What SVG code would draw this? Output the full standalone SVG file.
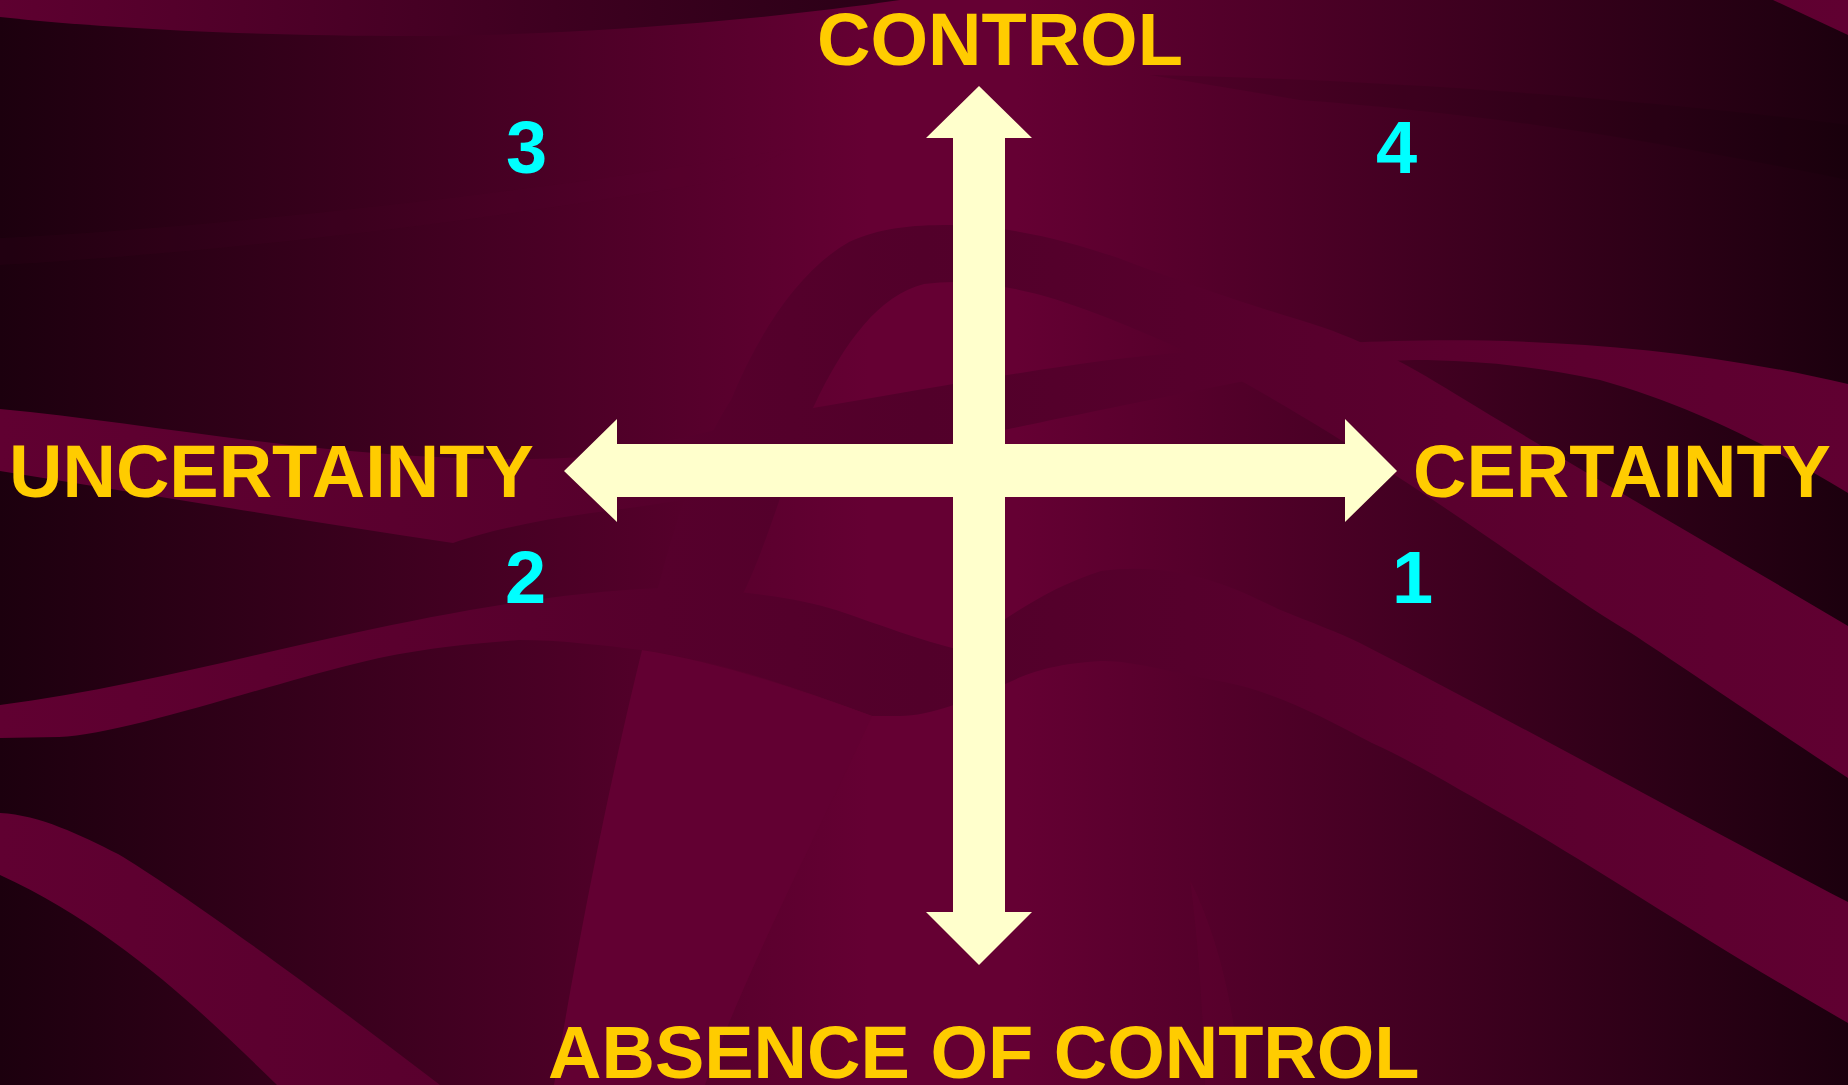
<svg xmlns="http://www.w3.org/2000/svg" width="1848" height="1085" viewBox="0 0 1848 1085">
  <defs>
    <linearGradient id="bg" gradientUnits="userSpaceOnUse" x1="0" y1="0" x2="1848" y2="0">
      <stop offset="0" stop-color="#1c000e"/>
      <stop offset="0.47" stop-color="#650033"/>
      <stop offset="0.55" stop-color="#650033"/>
      <stop offset="1" stop-color="#1c000e"/>
    </linearGradient>
    <linearGradient id="band" gradientUnits="userSpaceOnUse" x1="0" y1="0" x2="1848" y2="0">
      <stop offset="0" stop-color="#600031"/>
      <stop offset="0.5" stop-color="#52002a"/>
      <stop offset="1" stop-color="#600031"/>
    </linearGradient>
    <linearGradient id="topstrip" gradientUnits="userSpaceOnUse" x1="0" y1="0" x2="900" y2="0">
      <stop offset="0" stop-color="#5e0030"/>
      <stop offset="1" stop-color="#2a0016"/>
    </linearGradient>
    <style>
      .band { fill: url(#band); }
      .lite { fill: #620032; }
      .lbl { font-family: "Liberation Sans", Arial, sans-serif; font-weight: bold; font-size: 74px; fill: #FFCC00; }
      .num { font-family: "Liberation Sans", Arial, sans-serif; font-weight: bold; font-size: 74px; fill: #00FFFF; }
      .arrow { fill: #FFFFCC; }
    </style>
  </defs>

  <g id="background">
    <rect x="0" y="0" width="1848" height="1085" fill="url(#bg)"/>
    <path d="M0,0 H900 C750,22 560,36 412,36 C250,36 100,28 0,17 Z" fill="url(#topstrip)"/>
    <path class="band" d="M1773,0 H1848 V35 Z"/>
    <path d="M0,238 C250,225 550,190 790,149 C770,160 745,172 725,180 C520,215 260,250 0,265 Z" fill="#660033" opacity="0.07"/>
    <path d="M1150,75 C1400,80 1650,100 1848,125 L1848,180 C1650,140 1500,115 1300,100 Z" fill="#000000" opacity="0.09"/>
    <path class="band" d="M0,409 C120,420 250,445 400,455 C500,461 560,460 600,455 C680,440 750,420 813,408 C950,385 1080,360 1188,352 C1250,347 1300,344 1344,343 C1480,336 1660,340 1848,384 L1848,493 C1780,452 1700,408 1600,380 C1530,365 1470,360 1414,360 C1330,362 1250,380 1160,398 C1080,414 1004,430 1004,430 C900,455 780,490 591,513 C540,520 490,530 453,543 C300,520 150,495 0,471 Z"/>
    <path class="band" d="M655,600 C680,500 705,440 731,400 C760,330 800,270 849,242 C880,228 910,225 950,225 C1020,225 1100,250 1142,267 C1200,288 1250,305 1300,320 C1360,338 1400,360 1457,395 C1580,470 1720,550 1848,626 L1848,778 C1760,720 1680,665 1631,633 C1560,590 1500,543 1398,477 C1320,425 1250,385 1188,352 C1120,322 1060,296 1004,287 C970,281 950,281 924,284 C880,295 845,340 813,408 C790,460 770,540 740,600 Z"/>
    <path class="band" d="M0,705 C120,690 250,655 354,633 C450,612 560,592 660,588 C730,588 800,598 836,610 C880,625 920,640 960,650 C990,630 1040,590 1101,571 C1180,560 1240,590 1278,609 C1310,622 1340,633 1360,643 C1520,725 1700,825 1848,902 L1848,1023 C1720,950 1600,870 1513,820 C1460,790 1410,760 1372,743 C1320,715 1270,690 1219,681 C1170,672 1130,660 1101,661 C1060,663 1030,672 1012,681 C970,700 930,716 900,716 L872,716 C800,690 720,660 642,650 C600,645 560,640 519,640 C450,645 400,652 354,664 C250,690 120,735 59,737 L0,738 Z"/>
    <path class="lite" d="M642,650 C720,662 800,690 872,716 C820,830 750,960 705,1085 L554,1085 C585,900 615,760 642,650 Z"/>
    <path class="band" d="M0,813 C40,815 80,835 118,854 C170,885 290,970 440,1085 L277,1085 C210,1020 120,930 0,875 Z"/>
    <path d="M1190,880 C1215,930 1235,1000 1240,1085 L1205,1085 C1203,1010 1198,940 1190,880 Z" fill="#660033" opacity="0.25"/>
  </g>

  <g id="connectors">
    <polygon id="axis-vertical" class="arrow" points="979,86 1032,138 1005,138 1005,912 1032,912 979,965 926,912 953,912 953,138 926,138"/>
    <polygon id="axis-horizontal" class="arrow" points="564,471 617,419 617,444 1345,444 1345,419 1397,471 1345,522 1345,497 617,497 617,522"/>
  </g>

  <g id="label-control"><text class="lbl" x="817" y="65">CONTROL</text></g>
  <g id="label-absence"><text class="lbl" x="548" y="1078">ABSENCE OF CONTROL</text></g>
  <g id="label-uncertainty"><text class="lbl" x="9" y="497">UNCERTAINTY</text></g>
  <g id="label-certainty"><text class="lbl" x="1413" y="497">CERTAINTY</text></g>

  <g id="quadrant-3"><text class="num" x="506" y="173">3</text></g>
  <g id="quadrant-4"><text class="num" x="1376" y="173">4</text></g>
  <g id="quadrant-2"><text class="num" x="505" y="603">2</text></g>
  <g id="quadrant-1"><text class="num" x="1392" y="603">1</text></g>
</svg>
